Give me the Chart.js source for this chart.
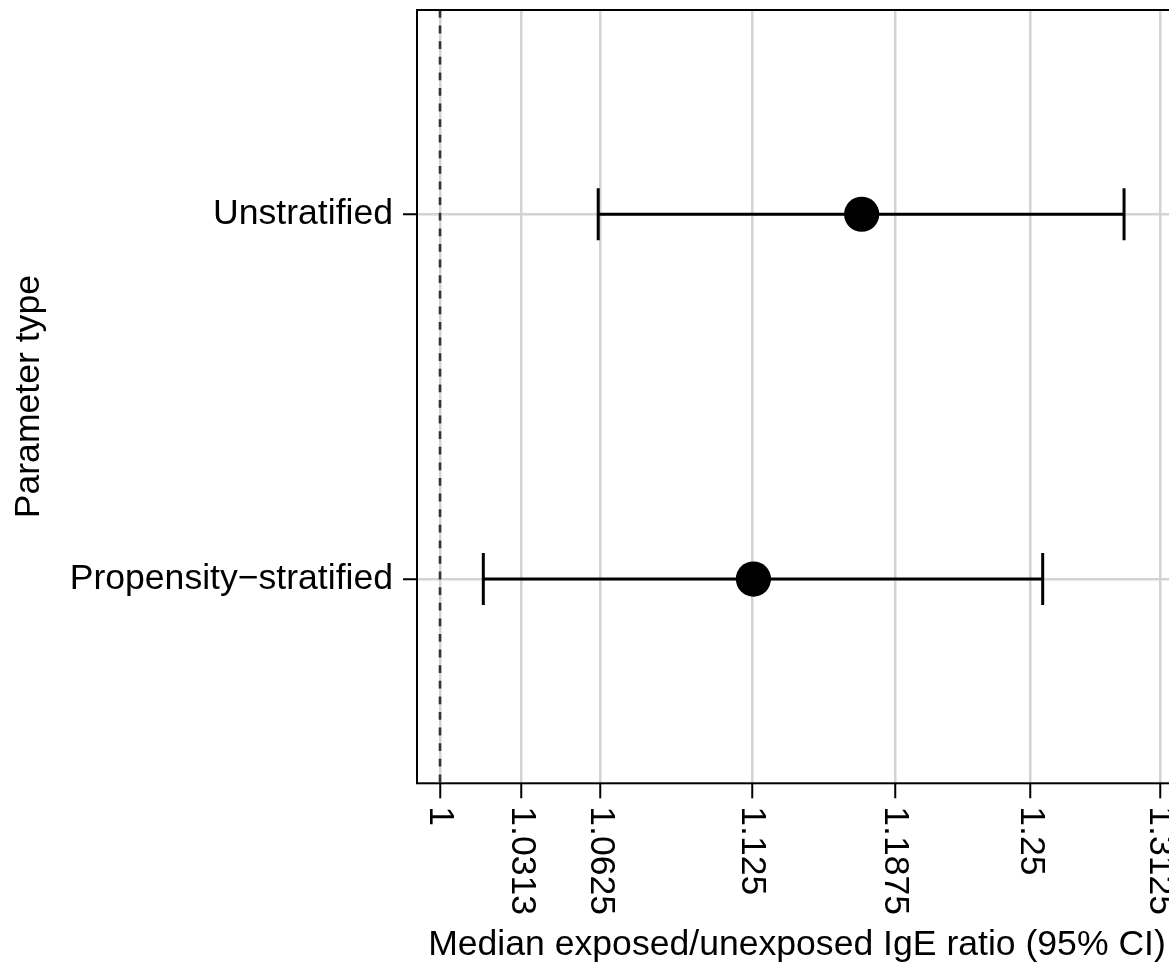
<!DOCTYPE html>
<html>
<head>
<meta charset="utf-8">
<script src="https://cdn.jsdelivr.net/npm/chart.js@4.4.1/dist/chart.umd.min.js"></script>
<style>
  html, body { margin: 0; padding: 0; background: #ffffff; overflow: hidden; width: 1169px; height: 966px; }
  #wrap { width: 1190px; height: 966px; }
</style>
</head>
<body>
<div id="wrap"><canvas id="c" width="1190" height="966" style="width:1190px;height:966px;"></canvas></div>
<script>
// ---- data ----
const categories = ['Unstratified', 'Propensity\u2212stratified'];
const estimate   = [1.1727, 1.1257];
const ciLower    = [1.0616, 1.0165];
const ciUpper    = [1.2949, 1.2557];
const tickValues = [1, 1.0313, 1.0625, 1.125, 1.1875, 1.25, 1.3125];
const tickLabels = ['1', '1.0313', '1.0625', '1.125', '1.1875', '1.25', '1.3125'];
const referenceValue = 1;
const xTitle = 'Median exposed/unexposed IgE ratio (95% CI)';
const yTitle = 'Parameter type';

// ---- layout / style ----
const FONT = 'Liberation Sans, Arial, Helvetica, sans-serif';
const FS = 35.6;
const X_MIN = 0.99135, X_MAX = 1.32106;
const Y_MIN = 0.44, Y_MAX = 2.56;
const GRID = '#d3d3d3';

const positions = categories.map((c, i) => i + 1);

const datasets = [];
// point estimates (drawn on top)
datasets.push({
  label: 'estimate',
  data: categories.map((c, i) => ({x: estimate[i], y: positions[i]})),
  showLine: false,
  pointStyle: 'circle',
  pointRadius: 17.6,
  pointBackgroundColor: '#000000',
  pointBorderWidth: 0,
  order: 0
});
// confidence interval bars with caps
categories.forEach((c, i) => {
  datasets.push({
    label: 'ci ' + c,
    data: [{x: ciLower[i], y: positions[i]}, {x: ciUpper[i], y: positions[i]}],
    showLine: true,
    borderColor: '#000000',
    borderWidth: 3,
    pointStyle: 'line',
    pointRotation: 90,
    pointRadius: 26,
    pointBorderWidth: 3,
    pointBorderColor: '#000000',
    order: 1
  });
});
// dashed reference line
datasets.push({
  label: 'reference',
  data: [{x: referenceValue, y: Y_MIN}, {x: referenceValue, y: Y_MAX}],
  showLine: true,
  borderColor: '#333333',
  borderWidth: 2.6,
  borderDash: [7.8, 7.8],
  pointRadius: 0,
  order: 2
});

const frame = {
  id: 'frame',
  afterDraw(chart) {
    const {ctx, chartArea: a} = chart;
    ctx.save();
    ctx.strokeStyle = '#000000';
    ctx.lineWidth = 2;
    ctx.strokeRect(a.left, a.top, a.right - a.left, a.bottom - a.top);
    ctx.restore();
  }
};

new Chart(document.getElementById('c'), {
  type: 'scatter',
  data: { datasets },
  options: {
    responsive: false,
    animation: false,
    events: [],
    layout: { autoPadding: false, padding: { left: 0, top: 10, right: 13, bottom: 0 } },
    plugins: { legend: { display: false }, tooltip: { enabled: false } },
    scales: {
      x: {
        type: 'logarithmic',
        position: 'bottom',
        bounds: 'data',
        min: X_MIN,
        max: X_MAX,
        afterBuildTicks: (s) => {
          s.ticks = tickValues.map(v => ({value: v}));
          s.min = X_MIN; s.max = X_MAX;
        },
        afterFit: (s) => {
          s.height = 182.7;
          s.paddingLeft = 0; s.paddingRight = 0;
          s._getXAxisLabelAlignment = () => 'left';
        },
        border: { display: false },
        grid: {
          color: GRID, lineWidth: 2.5,
          drawTicks: true, tickLength: 15, tickColor: '#000000', tickWidth: 2
        },
        ticks: {
          autoSkip: false,
          minRotation: -90, maxRotation: -90,
          padding: 8,
          color: '#000000',
          font: { family: FONT, size: FS, lineHeight: 1.2 },
          callback: (v, i) => tickLabels[i]
        },
        title: {
          display: true,
          text: xTitle,
          color: '#000000',
          font: { family: FONT, size: FS, lineHeight: 1.15 },
          padding: { top: 0, bottom: 0 }
        }
      },
      y: {
        type: 'linear',
        reverse: true,
        min: Y_MIN,
        max: Y_MAX,
        afterBuildTicks: (s) => { s.ticks = positions.map(v => ({value: v})); },
        afterFit: (s) => {
          s.width = 417;
          s.paddingTop = 0; s.paddingBottom = 0;
        },
        border: { display: false },
        grid: {
          color: GRID, lineWidth: 2.5,
          drawTicks: true, tickLength: 14, tickColor: '#000000', tickWidth: 2
        },
        ticks: {
          padding: 10,
          color: '#000000',
          font: { family: FONT, size: FS, lineHeight: 1.2 },
          callback: (v, i) => categories[i]
        },
        title: {
          display: true,
          text: yTitle,
          color: '#000000',
          font: { family: FONT, size: FS, lineHeight: 1.15 },
          padding: { top: 8.3, bottom: 0 }
        }
      }
    }
  },
  plugins: [frame]
});
</script>
</body>
</html>
